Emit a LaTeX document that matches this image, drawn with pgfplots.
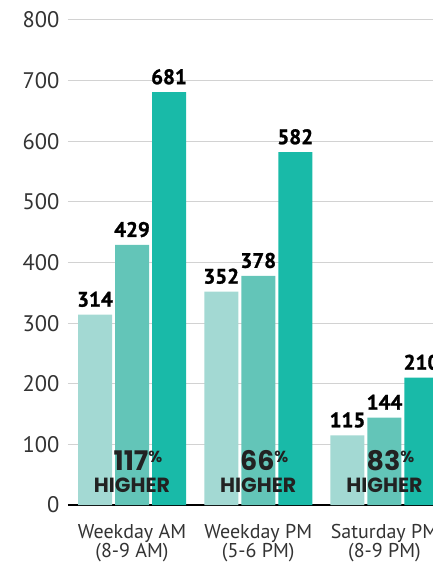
\documentclass[border=0pt]{standalone}
\usepackage{fontspec}
\setmainfont{PT Sans}
\newfontfamily\pctfont{Poppins}
\newfontfamily\valfont{PT Sans}[BoldFeatures={FakeBold=1.2}]
\usepackage{pgfplots}
\pgfplotsset{compat=1.18}

\definecolor{c1}{HTML}{A3D9D3}
\definecolor{c2}{HTML}{63C5B8}
\definecolor{c3}{HTML}{19BAA8}
\definecolor{tickgray}{HTML}{333333}
\definecolor{pctdark}{HTML}{222222}

\begin{document}
\begin{tikzpicture}[x=1pt,y=1pt]
\begin{axis}[
  at={(0,0)}, anchor=south west,
  scale only axis, width=380.5pt, height=485pt,
  xmin=-0.507, xmax=2.507, ymin=0, ymax=800,
  ybar, bar width=34pt,
  xtick={0,1,2},
  xticklabels={{Weekday AM\\(8-9 AM)},{Weekday PM\\(5-6 PM)},{Saturday PM\\(8-9 PM)}},
  xticklabel style={align=center, font=\fontsize{20}{18.5}\selectfont, text=tickgray, yshift=-16pt},
  ytick={0,100,...,800},
  yticklabel style={font=\fontsize{22.5}{22.5}\selectfont, text=tickgray, xshift=-5pt},
  /pgf/number format/assume math mode=true,
  ymajorgrids, grid style={draw=gray!35, line width=1pt},
  axis x line*=bottom, axis y line*=left,
  x axis line style={black, line width=2pt, -},
  y axis line style={draw=none},
  major tick length=0pt,
  nodes near coords,
  every node near coord/.append style={font=\valfont\bfseries\fontsize{21}{21}\selectfont, text=black, anchor=base, yshift=8pt},
  clip=false,
]
% all three series, one bar per time window
\addplot[fill=c1, draw=none, bar shift=-37pt] coordinates {(0,314) (1,352) (2,115)};
\addplot[fill=c2, draw=none, bar shift=0pt]   coordinates {(0,429) (1,378) (2,144)};
\addplot[fill=c3, draw=none, bar shift=37pt]  coordinates {(0,681) (1,582) (2,210)};

% percentage annotations
\foreach \g/\p in {0/117, 1/66, 2/83} {
  \edef\tmp{\noexpand\node[font=\noexpand\pctfont\noexpand\bfseries\noexpand\fontsize{27}{27}\noexpand\selectfont, text=pctdark, anchor=base, xshift=6pt, inner sep=0pt] at (axis cs:\g,57.7) {\p{\noexpand\fontsize{16}{16}\noexpand\selectfont\noexpand\raisebox{8pt}{\noexpand\%}}};}
  \tmp
  \edef\tmp{\noexpand\node[font=\noexpand\pctfont\noexpand\bfseries\noexpand\fontsize{20.5}{20.5}\noexpand\selectfont, text=pctdark, anchor=base, inner sep=0pt] at (axis cs:\g,21.4) {HIGHER};}
  \tmp
}
\end{axis}
\pgfresetboundingbox
\path[use as bounding box] (-68,-60) rectangle (364,505);
\end{tikzpicture}
\end{document}
